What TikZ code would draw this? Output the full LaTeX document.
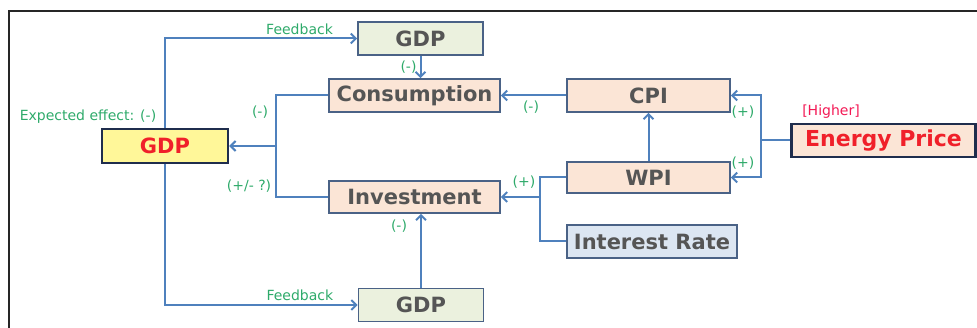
\documentclass[tikz,border=0pt]{standalone}
\usepackage{fontspec}
\setmainfont{DejaVu Sans}
\usetikzlibrary{arrows.meta}
\definecolor{linkblue}{HTML}{4F81BD}
\definecolor{boxline}{HTML}{4A6286}
\definecolor{boxtext}{HTML}{555555}
\definecolor{signgreen}{HTML}{2EAA6A}
\definecolor{peach}{HTML}{FBE5D6}
\definecolor{sage}{HTML}{EBF1DE}
\definecolor{paleblue}{HTML}{DCE6F2}
\definecolor{lemon}{HTML}{FFF799}
\definecolor{navy}{HTML}{1F2D4D}
\definecolor{hotred}{HTML}{F0202A}
\begin{document}
\begin{tikzpicture}[x=1pt,y=-1pt,
  box/.style={draw=boxline,line width=1.6pt,inner sep=0pt,text=boxtext,
    font=\fontsize{21}{24}\selectfont\bfseries},
  mainbox/.style={box,draw=navy,line width=2.4pt,text=hotred},
  sign/.style={text=signgreen,font=\fontsize{14}{16}\selectfont,inner sep=0pt},
  link/.style={draw=linkblue,line width=2pt,>={Straight Barb[length=5pt,width=10pt]}}]
\useasboundingbox (0,0) rectangle (977,328);
\draw[black!85,line width=1.2pt] (9,328) -- (9,11) -- (977,11);
\node (gdp) at (165,146) [mainbox,fill=lemon,minimum width=126pt,minimum height=34pt] {GDP};
\node (gdptop) at (420.5,38.5) [box,fill=sage,minimum width=125pt,minimum height=33pt] {GDP};
\node (gdpbot) at (421,305) [box,fill=sage,minimum width=125pt,minimum height=33pt] {GDP};
\node (cons) at (414.5,95.5) [box,fill=peach,minimum width=171pt,minimum height=33pt] {Consumption};
\node (inv) at (414.5,197) [box,fill=peach,minimum width=171pt,minimum height=32pt] {Investment};
\node (cpi) at (648.5,95.5) [box,fill=peach,minimum width=163pt,minimum height=33pt] {CPI};
\node (wpi) at (648.5,177.5) [box,fill=peach,minimum width=163pt,minimum height=31pt] {WPI};
\node (rate) at (652,241.5) [box,fill=paleblue,minimum width=170pt,minimum height=33pt] {Interest Rate};
\node (energy) at (883.5,140.5) [mainbox,fill=peach,minimum width=184pt,minimum height=33pt,font=\fontsize{22}{24}\selectfont\bfseries] {Energy Price};
\node (higher) at (831,112) [sign,text=hotred!80!magenta] {[Higher]};
\node (expect) at (88,117) [sign] {Expected effect: (-)};
\coordinate (jl) at (276,146);
\coordinate (jm) at (540,197);
\coordinate (jr) at (761,140.5);
\draw[link,->] (gdp.north) |- node[sign,pos=0.85,above=3pt] {Feedback} (gdptop.west);
\draw[link,->] (gdp.south) |- node[sign,pos=0.85,above=3pt] {Feedback} (gdpbot.west);
\draw[link,->] (gdptop.south) -- node[sign,left=3pt] {(-)} (gdptop.south |- cons.north);
\draw[link] (cons.west) -| (jl) |- (inv.west);
\draw[link,->] (jl) -- (gdp.east);
\draw[link,->] (cpi.west) -- (cons.east);
\draw[link,->] (wpi.north) -- (cpi.south);
\draw[link] (energy.west) -- (jr);
\draw[link,->] (jr) |- (cpi.east);
\draw[link,->] (jr) |- (wpi.east);
\draw[link] (wpi.west) -| (jm) |- (rate.west);
\draw[link,->] (jm) -- (inv.east);
\draw[link,->] (gdpbot.north) -- (gdpbot.north |- inv.south);
\node (s1) at (260,112) [sign] {(-)};
\node (s2) at (249,186) [sign] {(+/- ?)};
\node (s3) at (531,107) [sign] {(-)};
\node (s4) at (743,112) [sign] {(+)};
\node (s5) at (743,163) [sign] {(+)};
\node (s6) at (524,182) [sign] {(+)};
\node (s7) at (399,226) [sign] {(-)};
\end{tikzpicture}
\end{document}
